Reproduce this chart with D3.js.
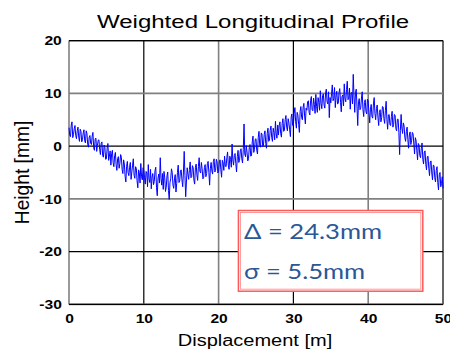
<!DOCTYPE html>
<html>
<head>
<meta charset="utf-8">
<script src="https://cdn.jsdelivr.net/npm/d3@7"></script>
<style>
  html, body { margin: 0; padding: 0; background: #fff; }
  svg { display: block; }
  .tick-label { font-family: "Liberation Sans", Arial, sans-serif; font-size: 13px; font-weight: bold; fill: #000; }
  .axis-title { font-family: "Liberation Sans", Arial, sans-serif; font-size: 16px; fill: #000; }
  .chart-title { font-family: "Liberation Sans", Arial, sans-serif; font-size: 18.5px; fill: #000; }
  .note { font-family: Lato, "Open Sans", sans-serif; font-size: 20.5px; fill: #2b5797; }
</style>
</head>
<body>
<svg id="chart" width="450" height="351"></svg>
<script>
// profile heights [mm], sampled every 0.1 m from 0 to 50 m (one row per metre)
const step = 0.1;
const heights = [
  3.5, 2.1, 1.8, 4.0, 4.6, 1.6, 2.2, 3.3, 3.9, 2.0,
  1.4, 2.9, 3.6, 1.7, 0.9, 3.2, 2.8, 0.8, 1.2, 2.5,
  3.1, 1.0, 0.6, 2.9, 2.4, 0.4, -0.2, 1.7, 2.0, 0.5,
  0.3, 1.9, 2.6, -0.3, -0.8, 1.4, 1.5, -1.0, 0.1, 1.1,
  1.2, -0.6, -1.6, 0.5, 0.8, -1.8, -2.1, 0.2, -0.3, -2.5,
  -2.4, -0.4, 0.5, -2.7, -1.9, -0.9, -3.6, -1.4, -0.8, -3.1,
  -3.9, -1.8, -1.2, -3.5, -4.6, -2.4, -2.0, -4.2, -3.3, -1.6,
  -2.1, -4.4, -5.2, -2.6, -3.4, -5.7, -6.8, -3.8, -2.9, -5.0,
  -5.6, -4.0, -3.1, -6.3, -4.9, -3.6, -2.4, -5.5, -6.1, -3.9,
  -4.2, -6.6, -7.9, -4.5, -5.0, -7.0, -3.3, -5.8, -6.4, -4.1,
  -4.6, -6.0, -7.2, -4.8, -5.1, -7.7, -3.5, -6.2, -6.9, -4.4,
  -8.1, -5.9, -5.2, -7.3, -6.7, -4.6, -4.0, -7.9, -9.4, -6.1,
  -5.3, -7.0, -2.2, -6.1, -7.4, -5.2, -8.2, -4.8, -6.0, -8.6,
  -7.8, -5.6, -4.9, -8.4, -10.1, -6.9, -6.2, -4.3, -5.0, -7.4,
  -8.0, -6.2, -5.4, -8.7, -7.1, -5.0, -3.6, -6.9, -6.6, -4.7,
  -4.5, -6.4, -7.7, -4.9, -1.0, -5.6, -9.6, -6.8, -4.1, -5.3,
  -6.3, -4.4, -3.0, -6.0, -5.8, -3.7, -4.1, -6.5, -7.2, -4.0,
  -3.4, -5.5, -6.5, -3.9, -2.2, -4.8, -5.1, -3.1, -4.3, -6.2,
  -6.0, -4.1, -3.5, -5.8, -5.2, -3.3, -2.9, -5.0, -7.4, -4.2,
  -3.1, -4.7, -5.3, -2.9, -2.4, -4.9, -4.6, -2.5, -3.0, -5.1,
  -4.8, -3.0, -2.6, -4.5, -5.9, -2.7, -3.2, -4.6, -1.9, -3.8,
  -3.9, -2.2, -1.1, -3.6, -4.4, -1.9, -2.5, -4.0, 0.4, -2.6,
  -3.6, -1.8, -1.4, -3.3, -4.9, -2.0, -0.8, -3.1, -2.7, -0.9,
  -0.5, -2.4, -3.2, -0.6, 4.2, -1.5, -2.0, 0.1, -1.1, -2.8,
  -2.4, -0.2, 0.3, -1.9, -1.8, 0.8, 1.9, -1.2, -0.6, 1.3,
  1.4, -0.8, -1.5, 1.6, 2.8, 0.1, -0.2, 2.5, 2.3, -0.1,
  0.2, 2.2, 2.9, 0.5, -0.4, 2.4, 3.4, 0.9, 1.1, 3.0,
  3.8, 1.6, 0.9, 3.4, 2.6, 1.2, 4.7, 2.3, 1.5, 4.0,
  2.1, 3.9, 4.6, 2.4, 1.7, 4.3, 5.2, 2.8, 3.0, 5.0,
  5.8, 3.6, 2.9, 5.2, 4.4, 3.1, 1.8, 5.5, 6.1, 3.9,
  4.0, 6.2, 7.3, 4.6, 3.4, 6.4, 5.9, 4.1, 2.6, 6.6,
  7.5, 5.4, 5.0, 7.4, 8.1, 5.7, 4.2, 7.2, 6.8, 8.4,
  8.6, 6.4, 5.9, 8.7, 9.4, 6.9, 6.7, 9.1, 7.9, 6.2,
  9.8, 7.5, 6.4, 9.2, 8.3, 6.8, 10.5, 8.1, 7.1, 9.6,
  9.9, 7.8, 7.2, 10.1, 10.8, 8.4, 8.0, 10.3, 5.4, 9.2,
  8.2, 10.0, 11.6, 8.6, 9.0, 11.1, 7.3, 9.5, 10.4, 8.0,
  8.1, 10.2, 10.9, 8.3, 6.5, 9.4, 9.7, 7.6, 11.8, 9.0,
  8.4, 10.7, 12.3, 8.8, 9.1, 11.0, 7.0, 9.9, 10.2, 8.0,
  13.6, 9.5, 6.4, 10.1, 10.8, 7.6, 3.9, 8.4, 9.0, 6.9,
  7.2, 9.1, 10.3, 6.9, 5.6, 8.3, 8.8, 6.5, 6.1, 8.9,
  8.6, 6.3, 4.4, 7.0, 7.9, 5.6, 5.3, 8.0, 9.2, 6.2,
  5.0, 7.1, 7.8, 5.5, 3.9, 6.4, 6.9, 4.6, 5.4, 7.5,
  7.4, 5.2, 4.3, 6.8, 8.5, 5.0, 3.2, 5.9, 6.0, 4.1,
  3.9, 5.6, 6.6, 3.6, 4.1, 6.0, 5.8, 3.3, 2.9, 5.1,
  5.1, 2.6, -1.6, 3.0, 6.0, 3.4, 2.4, 4.4, 3.8, 1.6,
  0.9, 2.8, 3.6, 1.2, -0.4, 2.1, 2.7, 0.3, 1.0, 2.6,
  2.3, 0.4, -1.5, 1.6, 1.1, -0.9, -2.6, 0.5, 0.2, -1.8,
  -2.2, -0.4, 0.6, -2.5, -3.4, -1.1, -0.9, -3.5, -4.5, -2.0,
  -1.9, -4.2, -5.6, -3.0, -2.8, -5.1, -6.4, -3.6, -3.7, -6.0,
  -6.8, -4.6, -3.9, -6.9, -8.3, -5.4, -5.0, -7.7, -7.1, -5.8,
  -8.0
];
const xTicks = [0, 10, 20, 30, 40, 50];
const yTicks = [-30, -20, -10, 0, 10, 20];
const noteLines = ['Δ = 24.3mm', 'σ = 5.5mm'];

const svg = d3.select('#chart');
const plot = { left: 69, right: 443, top: 40.6, bottom: 304.4 };
// the source picture is stretched sideways, so its text is wider than normal
const stretch = { title: 1.3, label: 1.25, tick: 1.2, note: 1.25 };

const x = d3.scaleLinear().domain([0, 50]).range([plot.left, plot.right]);
const y = d3.scaleLinear().domain([-30, 20]).range([plot.bottom, plot.top]);

const data = heights.map((h, i) => ({ d: i * step, h: h }));

// grid (the source image alternates dark and soft grey lines)
const grid = svg.append('g');
grid.selectAll('.vgrid')
  .data(xTicks)
  .join('line')
  .attr('x1', d => x(d)).attr('x2', d => x(d))
  .attr('y1', plot.top).attr('y2', plot.bottom)
  .attr('stroke', (d, i) => i % 2 === 0 ? '#808080' : '#000')
  .attr('stroke-width', (d, i) => i % 2 === 0 ? 1.6 : 1.2);

grid.selectAll('.hgrid')
  .data(yTicks)
  .join('line')
  .attr('y1', d => y(d)).attr('y2', d => y(d))
  .attr('x1', plot.left).attr('x2', plot.right)
  .attr('stroke', (d, i) => i % 2 === 0 ? '#808080' : '#000')
  .attr('stroke-width', (d, i) => i % 2 === 0 ? 1.6 : 1.2);

svg.append('line')
  .attr('x1', plot.left).attr('x2', plot.right)
  .attr('y1', plot.bottom).attr('y2', plot.bottom)
  .attr('stroke', '#000').attr('stroke-width', 1.2);
svg.append('line')
  .attr('x1', plot.left).attr('x2', plot.right)
  .attr('y1', plot.top).attr('y2', plot.top)
  .attr('stroke', '#000').attr('stroke-width', 1.2);

// axes (labels only, lines drawn as grid)
const xAxis = d3.axisBottom(x).tickValues(xTicks).tickSize(0).tickPadding(9)
  .tickFormat(d => String(d));
const yAxis = d3.axisLeft(y).tickValues(yTicks).tickSize(0).tickPadding(6)
  .tickFormat(d => String(d));

const gx = svg.append('g')
  .attr('transform', `translate(0,${plot.bottom})`)
  .call(xAxis);
const gy = svg.append('g')
  .attr('transform', `translate(${plot.left},0)`)
  .call(yAxis);
[gx, gy].forEach(g => {
  g.select('.domain').remove();
  g.attr('font-family', null).attr('font-size', null);
  g.selectAll('text')
    .attr('class', 'tick-label')
    .attr('transform', `scale(${stretch.tick},1)`);
});

// profile line
const line = d3.line()
  .x(d => x(d.d))
  .y(d => y(d.h));

svg.append('path')
  .datum(data)
  .attr('fill', 'none')
  .attr('stroke', '#0000ff')
  .attr('stroke-width', 1)
  .attr('stroke-linejoin', 'round')
  .attr('d', line);

// titles
svg.append('text')
  .attr('class', 'chart-title')
  .attr('transform', `translate(253,28) scale(${stretch.title},1)`)
  .attr('text-anchor', 'middle')
  .text('Weighted Longitudinal Profile');

svg.append('text')
  .attr('class', 'axis-title')
  .attr('transform', `translate(255,346) scale(${stretch.label},1)`)
  .attr('text-anchor', 'middle')
  .text('Displacement [m]');

svg.append('text')
  .attr('class', 'axis-title')
  .attr('transform', `translate(29,${y(-5)}) rotate(-90) scale(1.2,${stretch.label})`)
  .attr('text-anchor', 'middle')
  .text('Height [mm]');

// annotation box
const box = { x0: x(22.65), x1: x(47.3), y0: y(-12.2), y1: y(-27.5) };
const note = svg.append('g');
note.append('rect')
  .attr('x', box.x0).attr('y', box.y0)
  .attr('width', box.x1 - box.x0).attr('height', box.y1 - box.y0)
  .attr('fill', '#fff')
  .attr('stroke', '#ff5a5a').attr('stroke-width', 1.5);
note.append('rect')
  .attr('x', box.x0 + 2).attr('y', box.y0 + 2)
  .attr('width', box.x1 - box.x0 - 4).attr('height', box.y1 - box.y0 - 4)
  .attr('fill', 'none')
  .attr('stroke', '#ff9a9a').attr('stroke-width', 1);

note.selectAll('.note')
  .data(noteLines)
  .join('text')
  .attr('class', 'note')
  .attr('transform', (d, i) => `translate(${x(23.4)},${y(-17.6) + i * 40}) scale(${stretch.note},1)`)
  .text(d => d);
</script>
</body>
</html>
